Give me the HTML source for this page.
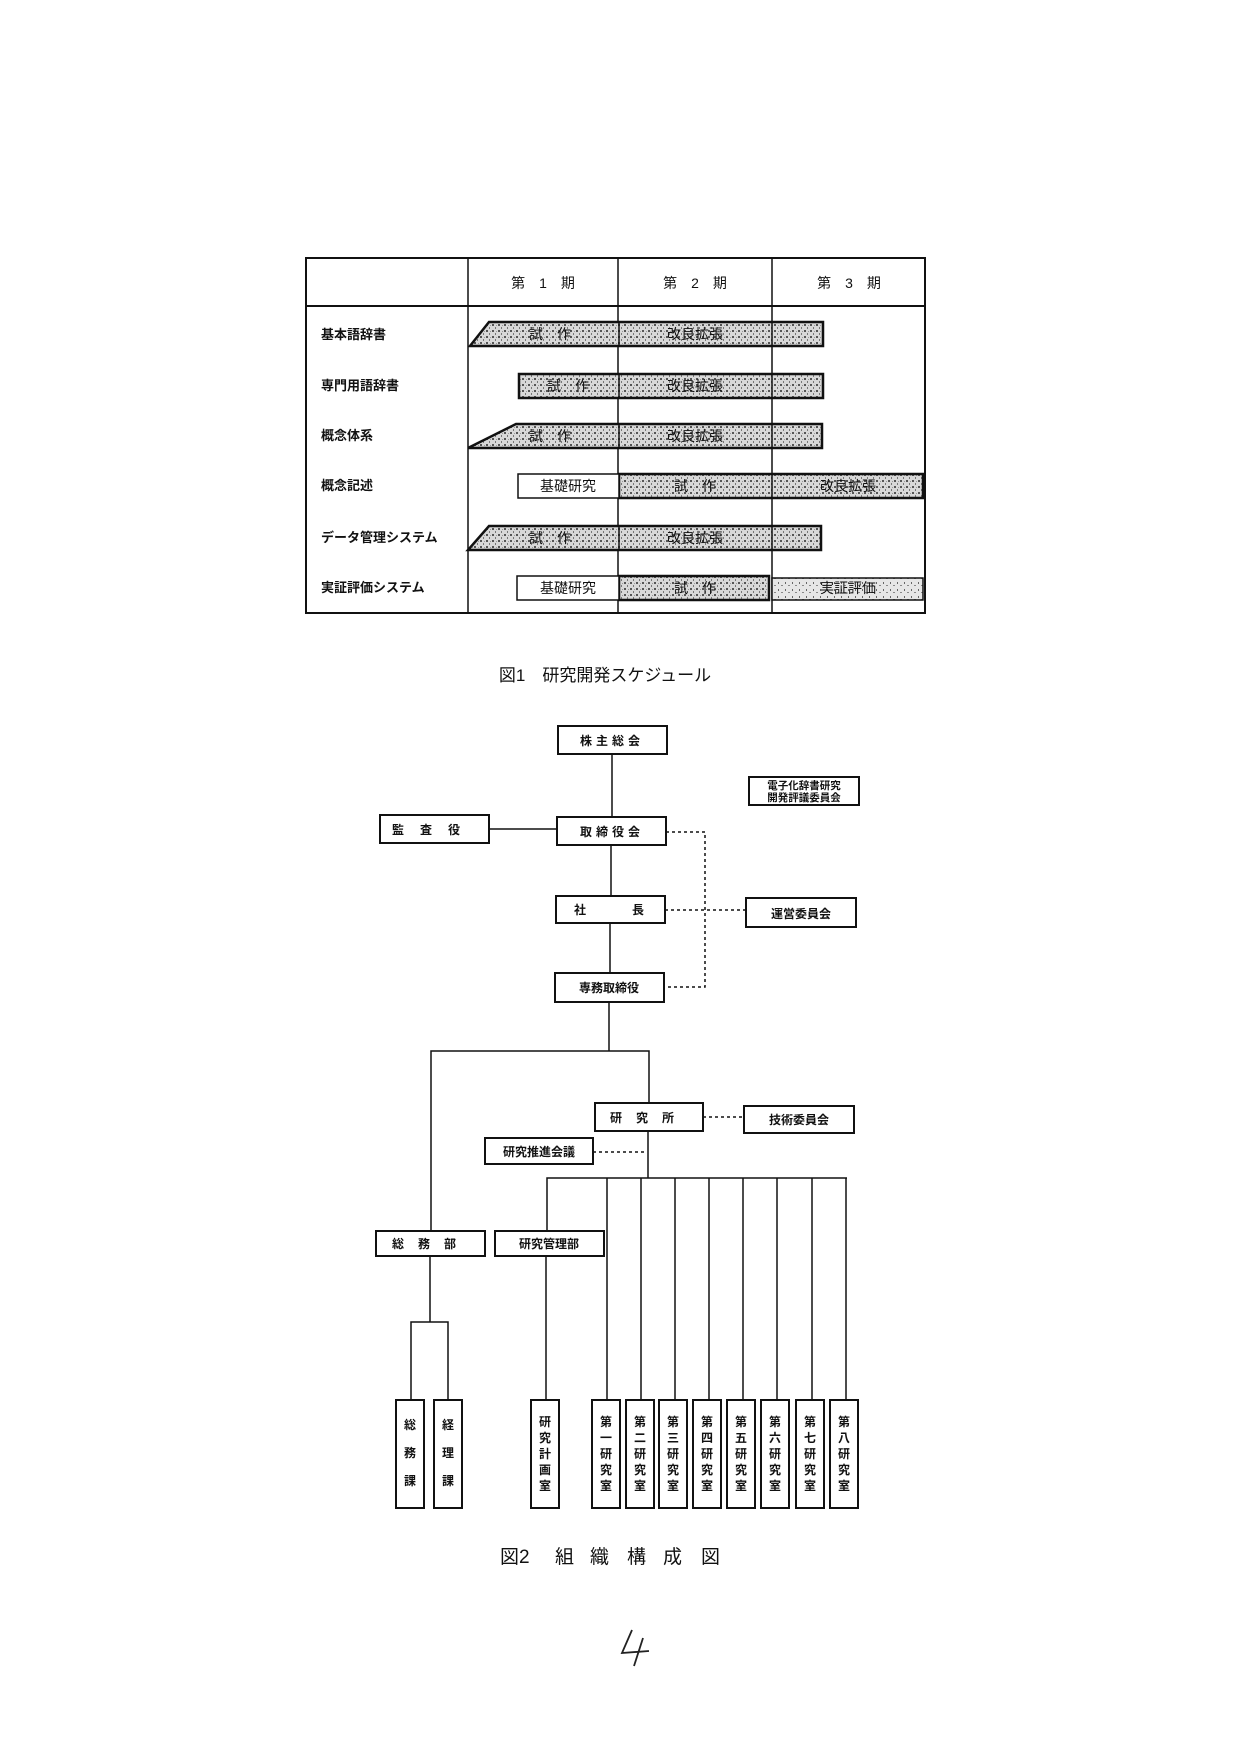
<!DOCTYPE html>
<html><head><meta charset="utf-8"><style>
html,body{margin:0;padding:0;background:#fff;}
svg{display:block;}
text{font-family:"Liberation Sans","Noto Sans CJK JP",sans-serif;fill:#111;}
</style></head><body>
<svg width="1248" height="1754" viewBox="0 0 1248 1754" xmlns="http://www.w3.org/2000/svg">
<defs>
<pattern id="dots" width="6" height="6" patternUnits="userSpaceOnUse">
<rect width="6" height="6" fill="#d8d8d8"/>
<rect x="0" y="0" width="2" height="2" fill="#555"/>
<rect x="3" y="3" width="1" height="2" fill="#777"/>
<rect x="4" y="1" width="1" height="1" fill="#999"/>
</pattern>
<pattern id="dots2" width="7" height="7" patternUnits="userSpaceOnUse">
<rect width="7" height="7" fill="#e6e6e6"/>
<rect x="1" y="1" width="1" height="2" fill="#666"/>
<rect x="4" y="4" width="2" height="1" fill="#888"/>
</pattern>
</defs>

<!-- Table -->
<g stroke="#111" fill="none">
<rect x="306" y="258" width="619" height="355" stroke-width="2"/>
<line x1="306" y1="306" x2="925" y2="306" stroke-width="2"/>
<line x1="468" y1="258" x2="468" y2="613" stroke-width="1.5"/>
<line x1="618" y1="258" x2="618" y2="613" stroke-width="1.5"/>
<line x1="772" y1="258" x2="772" y2="613" stroke-width="1.5"/>
</g>
<g font-size="14" text-anchor="middle">
<text x="543" y="288">第　1　期</text>
<text x="695" y="288">第　2　期</text>
<text x="849" y="288">第　3　期</text>
</g>
<g font-size="13" font-weight="bold">
<text x="321" y="339">基本語辞書</text>
<text x="321" y="390">専門用語辞書</text>
<text x="321" y="440">概念体系</text>
<text x="321" y="490">概念記述</text>
<text x="321" y="542">データ管理システム</text>
<text x="321" y="592">実証評価システム</text>
</g>

<g stroke="#111" stroke-width="2.5" fill="url(#dots)">
<polygon points="489,322 823,322 823,346 470,346"/>
<rect x="519" y="374" width="304" height="24"/>
<polygon points="516,424 822,424 822,448 468,448"/>
<rect x="619" y="474" width="304" height="24"/>
<polygon points="489,526 821,526 821,550 468,550"/>
<rect x="619" y="576" width="150" height="24"/>
</g>
<g stroke="#111" stroke-width="1.5">
<rect x="518" y="474" width="101" height="24" fill="#fff"/>
<rect x="517" y="576" width="102" height="24" fill="#fff"/>
<rect x="772" y="578" width="151" height="22" fill="url(#dots2)" stroke-width="1.5"/>
<line x1="619" y1="322" x2="619" y2="346"/><line x1="772" y1="322" x2="772" y2="346"/>
<line x1="619" y1="374" x2="619" y2="398"/><line x1="772" y1="374" x2="772" y2="398"/>
<line x1="619" y1="424" x2="619" y2="448"/><line x1="772" y1="424" x2="772" y2="448"/>
<line x1="772" y1="474" x2="772" y2="498"/>
<line x1="619" y1="526" x2="619" y2="550"/><line x1="772" y1="526" x2="772" y2="550"/>
</g>
<g font-size="14" text-anchor="middle">
<text x="550" y="339">試　作</text><text x="695" y="339">改良拡張</text>
<text x="568" y="391">試　作</text><text x="695" y="391">改良拡張</text>
<text x="550" y="441">試　作</text><text x="695" y="441">改良拡張</text>
<text x="568" y="491">基礎研究</text><text x="695" y="491">試　作</text><text x="848" y="491">改良拡張</text>
<text x="550" y="543">試　作</text><text x="695" y="543">改良拡張</text>
<text x="568" y="593">基礎研究</text><text x="695" y="593">試　作</text><text x="848" y="593">実証評価</text>
</g>
<text x="605" y="681" font-size="17" text-anchor="middle">図1　研究開発スケジュール</text>

<!-- Org chart -->
<g stroke="#111" stroke-width="1.5" fill="none">
<line x1="612" y1="754" x2="612" y2="817"/>
<line x1="489" y1="829" x2="557" y2="829"/>
<line x1="611" y1="845" x2="611" y2="896"/>
<line x1="610" y1="923" x2="610" y2="973"/>
<line x1="609" y1="1002" x2="609" y2="1051"/>
<polyline points="431,1231 431,1051 649,1051 649,1103"/>
<line x1="648" y1="1131" x2="648" y2="1178"/>
<polyline points="547,1231 547,1178 847,1178"/>
<line x1="607" y1="1178" x2="607" y2="1400"/>
<line x1="641" y1="1178" x2="641" y2="1400"/>
<line x1="675" y1="1178" x2="675" y2="1400"/>
<line x1="709" y1="1178" x2="709" y2="1400"/>
<line x1="743" y1="1178" x2="743" y2="1400"/>
<line x1="777" y1="1178" x2="777" y2="1400"/>
<line x1="812" y1="1178" x2="812" y2="1400"/>
<line x1="846" y1="1178" x2="846" y2="1400"/>
<line x1="546" y1="1256" x2="546" y2="1400"/>
<polyline points="430,1256 430,1322"/>
<polyline points="411,1400 411,1322 448,1322 448,1400"/>
</g>
<g stroke="#111" stroke-width="1.5" fill="none" stroke-dasharray="3,3">
<polyline points="666,832 705,832 705,987 664,987"/>
<line x1="665" y1="910" x2="746" y2="910"/>
<line x1="703" y1="1117" x2="744" y2="1117"/>
<line x1="593" y1="1152" x2="647" y2="1152"/>
</g>
<g stroke="#111" stroke-width="2" fill="#fff">
<rect x="558" y="726" width="109" height="28"/>
<rect x="749" y="777" width="110" height="28"/>
<rect x="380" y="815" width="109" height="28"/>
<rect x="557" y="817" width="109" height="28"/>
<rect x="556" y="896" width="109" height="27"/>
<rect x="746" y="898" width="110" height="29"/>
<rect x="555" y="973" width="109" height="29"/>
<rect x="595" y="1103" width="108" height="28"/>
<rect x="744" y="1106" width="110" height="27"/>
<rect x="485" y="1138" width="108" height="26"/>
<rect x="376" y="1231" width="109" height="25"/>
<rect x="495" y="1231" width="109" height="25"/>
<rect x="396" y="1400" width="28" height="108"/>
<rect x="434" y="1400" width="28" height="108"/>
<rect x="531" y="1400" width="28" height="108"/>
<rect x="592" y="1400" width="28" height="108"/>
<rect x="626" y="1400" width="28" height="108"/>
<rect x="659" y="1400" width="28" height="108"/>
<rect x="693" y="1400" width="28" height="108"/>
<rect x="727" y="1400" width="28" height="108"/>
<rect x="761" y="1400" width="28" height="108"/>
<rect x="796" y="1400" width="28" height="108"/>
<rect x="830" y="1400" width="28" height="108"/>
</g>
<g font-size="12" text-anchor="middle" font-weight="bold">
<text x="612" y="745" letter-spacing="4">株主総会</text>
<text x="804" y="789" font-size="10.5">電子化辞書研究</text>
<text x="804" y="801" font-size="10.5">開発評議委員会</text>
<text x="434" y="834" letter-spacing="16">監査役</text>
<text x="612" y="836" letter-spacing="4">取締役会</text>
<text x="580" y="914">社</text><text x="638" y="914">長</text>
<text x="801" y="918">運営委員会</text>
<text x="609" y="992">専務取締役</text>
<text x="649" y="1122" letter-spacing="14">研究所</text>
<text x="799" y="1124">技術委員会</text>
<text x="539" y="1156">研究推進会議</text>
<text x="431" y="1248" letter-spacing="14">総務部</text>
<text x="549" y="1248">研究管理部</text>
</g>
<g font-size="12" text-anchor="middle" font-weight="bold">
<text x="410" y="1429">総</text><text x="410" y="1457">務</text><text x="410" y="1485">課</text>
<text x="448" y="1429">経</text><text x="448" y="1457">理</text><text x="448" y="1485">課</text>
</g>
<g font-size="12" text-anchor="middle" font-weight="bold">
<g transform="translate(545,0)"><text y="1426">研</text><text y="1442">究</text><text y="1458">計</text><text y="1474">画</text><text y="1490">室</text></g>
<g transform="translate(606,0)"><text y="1426">第</text><text y="1442">一</text><text y="1458">研</text><text y="1474">究</text><text y="1490">室</text></g>
<g transform="translate(640,0)"><text y="1426">第</text><text y="1442">二</text><text y="1458">研</text><text y="1474">究</text><text y="1490">室</text></g>
<g transform="translate(673,0)"><text y="1426">第</text><text y="1442">三</text><text y="1458">研</text><text y="1474">究</text><text y="1490">室</text></g>
<g transform="translate(707,0)"><text y="1426">第</text><text y="1442">四</text><text y="1458">研</text><text y="1474">究</text><text y="1490">室</text></g>
<g transform="translate(741,0)"><text y="1426">第</text><text y="1442">五</text><text y="1458">研</text><text y="1474">究</text><text y="1490">室</text></g>
<g transform="translate(775,0)"><text y="1426">第</text><text y="1442">六</text><text y="1458">研</text><text y="1474">究</text><text y="1490">室</text></g>
<g transform="translate(810,0)"><text y="1426">第</text><text y="1442">七</text><text y="1458">研</text><text y="1474">究</text><text y="1490">室</text></g>
<g transform="translate(844,0)"><text y="1426">第</text><text y="1442">八</text><text y="1458">研</text><text y="1474">究</text><text y="1490">室</text></g>
</g>
<text x="500" y="1563" font-size="19">図2</text>
<text x="555" y="1563" font-size="19">組</text>
<text x="590" y="1563" font-size="19">織</text>
<text x="627" y="1563" font-size="19">構</text>
<text x="663" y="1563" font-size="19">成</text>
<text x="701" y="1563" font-size="19">図</text>
<g stroke="#222" stroke-width="1.8" fill="none">
<polyline points="632,1630 622,1653 649,1651"/>
<line x1="643" y1="1638" x2="634" y2="1666"/>
</g>
</svg>
</body></html>
